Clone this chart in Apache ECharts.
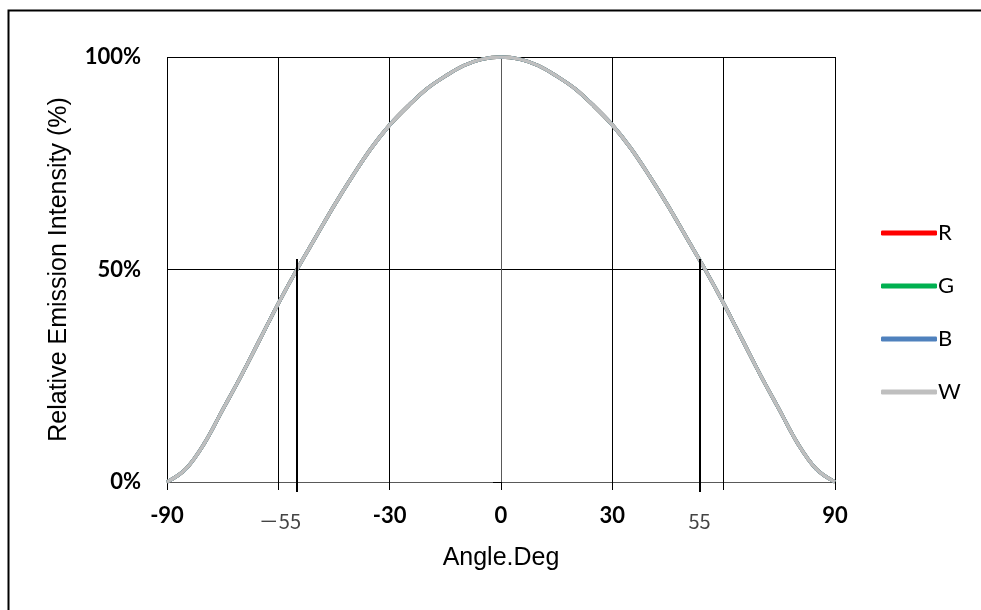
<!DOCTYPE html>
<html>
<head>
<meta charset="utf-8">
<script src="https://cdn.jsdelivr.net/npm/echarts@6/dist/echarts.min.js"></script>
<style>
html,body{margin:0;padding:0;background:#fff;}
#chart{width:981px;height:610px;}
</style>
</head>
<body>
<div id="chart"></div>
<script>
// Data
var angles = [-90,-85,-80,-75,-70,-65,-60,-55,-50,-45,-40,-35,-30,-25,-20,-15,-10,-5,0,5,10,15,20,25,30,35,40,45,50,55,60,65,70,75,80,85,90];
var intensityR = [0,3,9,17,25,33.5,42,50,57.5,65,72,78.5,84,88.5,92.5,95.5,98,99.5,100,99.5,98,95.5,92.5,88.5,84,78.5,72,65,57.5,50,42,33.5,25,17,9,3,0];
var intensityG = [0,3,9,17,25,33.5,42,50,57.5,65,72,78.5,84,88.5,92.5,95.5,98,99.5,100,99.5,98,95.5,92.5,88.5,84,78.5,72,65,57.5,50,42,33.5,25,17,9,3,0];
var intensityB = [0,3,9,17,25,33.5,42,50,57.5,65,72,78.5,84,88.5,92.5,95.5,98,99.5,100,99.5,98,95.5,92.5,88.5,84,78.5,72,65,57.5,50,42,33.5,25,17,9,3,0];
var intensityW = [0,3,9,17,25,33.5,42,50,57.5,65,72,78.5,84,88.5,92.5,95.5,98,99.5,100,99.5,98,95.5,92.5,88.5,84,78.5,72,65,57.5,50,42,33.5,25,17,9,3,0];
var seriesNames = ['R','G','B','W'];
var halfAngleLeft = -55;
var halfAngleRight = 53.5;   // drawn position of the "55" marker in the picture
var halfAngleLevel = 52.5;   // height of the half-angle marker lines (%)
var markerValues = [-55, 53.5];
var hiddenXLabels = [-60, 60];

function pairs(vals){ return angles.map(function(a,i){ return [a, vals[i]]; }); }

var colors = {R:'#FF0000', G:'#00B050', B:'#4F81BD', W:'#BFBFBF'};
var dataMap = {R:intensityR, G:intensityG, B:intensityB, W:intensityW};

var series = seriesNames.map(function(n){
  return {
    name:n, type:'line', data:pairs(dataMap[n]), smooth:0.35, showSymbol:false, symbol:'none',
    xAxisIndex:0, yAxisIndex:0,
    lineStyle:{color:colors[n], width:3.5}, itemStyle:{color:colors[n]}, z: 3,
    animation:false
  };
});
series[3].markLine = {
  silent:true, symbol:'none', animation:false,
  lineStyle:{color:'#000', width:2, type:'solid'},
  label:{show:false},
  data:[
    [{coord:[halfAngleLeft,0]},{coord:[halfAngleLeft,halfAngleLevel]}],
    [{coord:[halfAngleRight,0]},{coord:[halfAngleRight,halfAngleLevel]}]
  ]
};

var gridBox = {left:167, right:146, top:57, bottom:128, containLabel:false};

var chart = echarts.init(document.getElementById('chart'));
chart.setOption({
  backgroundColor:'#fff',
  animation:false,
  grid:[gridBox, gridBox],
  legend:{
    orient:'vertical', left:876, top:217,
    data:seriesNames,
    icon:'roundRect', itemWidth:56, itemHeight:5, itemGap:31,
    textStyle:{fontFamily:'Lato', fontSize:22, color:'#000', padding:[0,0,0,-4]}
  },
  xAxis:[{
    gridIndex:0,
    type:'value', min:-90, max:90, interval:30,
    name:'Angle.Deg', nameLocation:'middle', nameGap:64,
    nameTextStyle:{fontFamily:'Liberation Sans', fontSize:25, color:'#000'},
    axisLine:{show:true, onZero:false, lineStyle:{color:'#595959', width:1}},
    axisTick:{show:true, inside:false, length:8, lineStyle:{color:'#000', width:1}},
    splitLine:{show:true, lineStyle:{color:'#000', width:1}},
    axisLabel:{
      margin:23, fontFamily:'Lato', fontWeight:'bold', fontSize:22, color:'#000',
      formatter:function(v){ return hiddenXLabels.indexOf(v) >= 0 ? '' : String(v); }
    }
  },{
    gridIndex:1,
    type:'value', min:-90, max:90,
    axisLine:{show:false},
    splitLine:{show:false},
    axisTick:{show:true, inside:false, length:10, customValues:markerValues, lineStyle:{color:'#000', width:2}},
    axisLabel:{
      margin:23, customValues:markerValues,
      formatter:function(v){
        return v < 0 ? '{t|－55}' : '{u|55}';
      },
      rich:{
        t:{fontFamily:'Noto Sans CJK JP', fontSize:20, color:'#444', padding:[6,34,0,0]},
        u:{fontFamily:'Noto Sans CJK JP', fontSize:20, color:'#444', padding:[6,0,0,0]}
      }
    }
  }],
  yAxis:[{
    gridIndex:0,
    type:'value', min:0, max:100, interval:50,
    name:'Relative Emission Intensity (%)', nameLocation:'middle', nameGap:95, nameRotate:90,
    nameTextStyle:{fontFamily:'Liberation Sans', fontSize:25, color:'#000'},
    axisLine:{show:true, lineStyle:{color:'#595959', width:1}},
    axisTick:{show:true, length:8, lineStyle:{color:'#000'}},
    splitLine:{show:true, lineStyle:{color:'#000', width:1}},
    axisLabel:{margin:26, fontFamily:'Lato', fontWeight:'bold', fontSize:22, color:'#000',
      formatter:function(v){ return v + '%'; }}
  },{
    gridIndex:1, type:'value', min:0, max:100, show:false,
    splitLine:{show:false}, axisLine:{show:false}, axisTick:{show:false}, axisLabel:{show:false}
  }],
  graphic:[{
    type:'rect', left:6, top:8, silent:true,
    shape:{width:1000, height:700},
    style:{fill:'none', stroke:'#000', lineWidth:2}
  }],
  series:series
});
</script>
</body>
</html>
